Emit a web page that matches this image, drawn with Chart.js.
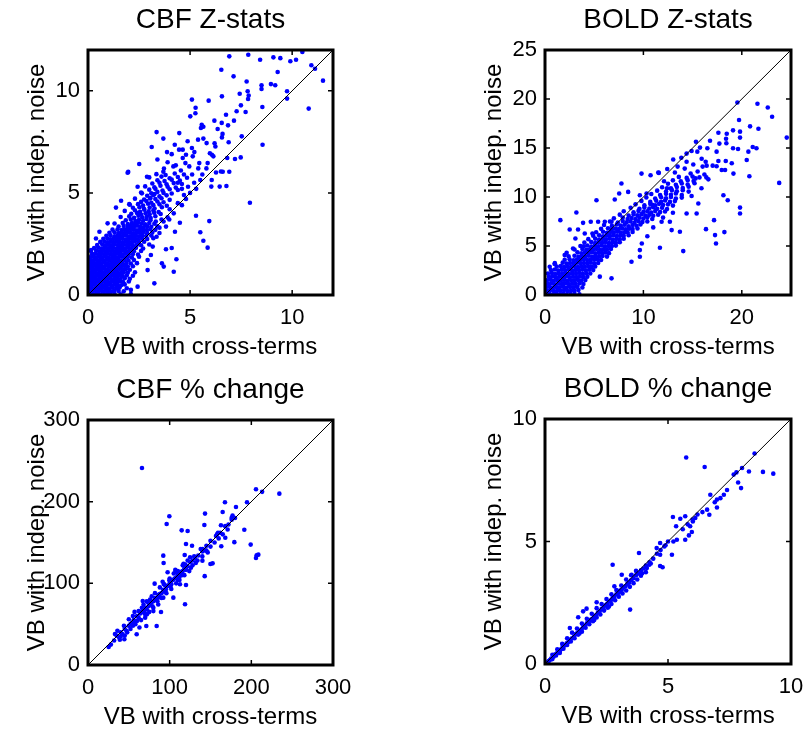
<!DOCTYPE html>
<html>
<head>
<meta charset="utf-8">
<script src="https://cdn.jsdelivr.net/npm/chart.js@4.4.1/dist/chart.umd.min.js"></script>
<style>
  body { margin: 0; background: #fff; width: 805px; height: 734px; position: relative; overflow: hidden; }
  .panel { position: absolute; }
</style>
</head>
<body>
<div class="panel" style="left:0;top:0;width:360px;height:364px"><canvas id="cbfZ"></canvas></div>
<div class="panel" style="left:457px;top:0;width:348px;height:364px"><canvas id="boldZ"></canvas></div>
<div class="panel" style="left:0;top:370px;width:360px;height:364px"><canvas id="cbfPct"></canvas></div>
<div class="panel" style="left:457px;top:369px;width:348px;height:364px"><canvas id="boldPct"></canvas></div>
<script>
const xAxisLabel = 'VB with cross-terms';
const yAxisLabel = 'VB with indep. noise';

const cbfZMax = 12;
const cbfZTicks = [0, 5, 10];
const boldZMax = 25;
const boldZXTicks = [0, 10, 20];
const boldZYTicks = [0, 5, 10, 15, 20, 25];
const cbfPctMax = 300;
const cbfPctTicks = [0, 100, 200, 300];
const boldPctMax = 10;
const boldPctTicks = [0, 5, 10];

// CBF Z-stats: [cross-terms, indep. noise]
const cbfZPoints = [
  [0.05,0.04],[0.2,0.07],[0.35,0.03],[0.5,0.06],[0.62,0.02],[0.8,0.05],[0.95,0.08],[1.1,0.03],[1.3,0.06],[1.6,0.04],[2.1,0.05],
  [0.1,0.2],[0.25,0.22],[0.4,0.18],[0.55,0.21],[0.7,0.19],[0.85,0.23],[1.0,0.2],[1.15,0.17],[1.3,0.22],[1.5,0.2],[1.75,0.18],
  [0.05,0.35],[0.18,0.37],[0.32,0.33],[0.48,0.36],[0.6,0.34],[0.75,0.38],[0.9,0.35],[1.05,0.32],[1.2,0.36],[1.38,0.35],[1.55,0.37],[1.9,0.33],
  [0.1,0.5],[0.25,0.52],[0.4,0.48],[0.55,0.51],[0.7,0.49],[0.85,0.53],[1.0,0.5],[1.15,0.47],[1.3,0.52],[1.45,0.5],[1.62,0.48],[1.8,0.52],
  [0.05,0.65],[0.2,0.67],[0.35,0.63],[0.5,0.66],[0.65,0.64],[0.8,0.68],[0.95,0.65],[1.1,0.62],[1.25,0.66],[1.4,0.65],[1.55,0.67],[1.72,0.63],[2.0,0.66],
  [0.1,0.8],[0.25,0.82],[0.4,0.78],[0.55,0.81],[0.7,0.79],[0.85,0.83],[1.0,0.8],[1.15,0.77],[1.3,0.82],[1.45,0.8],[1.6,0.78],[1.8,0.82],[2.05,0.79],
  [0.05,0.95],[0.2,0.97],[0.35,0.93],[0.5,0.96],[0.65,0.94],[0.8,0.98],[0.95,0.95],[1.1,0.92],[1.25,0.96],[1.4,0.95],[1.55,0.97],[1.7,0.93],[1.9,0.96],[2.2,0.94],
  [0.1,1.1],[0.25,1.12],[0.4,1.08],[0.55,1.11],[0.7,1.09],[0.85,1.13],[1.0,1.1],[1.15,1.07],[1.3,1.12],[1.45,1.1],[1.6,1.08],[1.75,1.12],[1.95,1.09],[2.3,1.11],
  [0.05,1.25],[0.2,1.27],[0.35,1.23],[0.5,1.26],[0.65,1.24],[0.8,1.28],[0.95,1.25],[1.1,1.22],[1.25,1.26],[1.4,1.25],[1.55,1.27],[1.7,1.23],[1.85,1.26],[2.05,1.24],
  [0.12,1.4],[0.28,1.42],[0.42,1.38],[0.58,1.41],[0.72,1.39],[0.88,1.43],[1.02,1.4],[1.18,1.37],[1.32,1.42],[1.48,1.4],[1.62,1.38],[1.78,1.42],[1.95,1.39],[2.2,1.41],
  [0.05,1.55],[0.2,1.57],[0.35,1.53],[0.5,1.56],[0.65,1.54],[0.8,1.58],[0.95,1.55],[1.1,1.52],[1.25,1.56],[1.4,1.55],[1.55,1.57],[1.7,1.53],[1.88,1.56],[2.1,1.54],[2.4,1.56],
  [0.15,1.7],[0.3,1.72],[0.45,1.68],[0.6,1.71],[0.75,1.69],[0.9,1.73],[1.05,1.7],[1.2,1.67],[1.35,1.72],[1.5,1.7],[1.65,1.68],[1.8,1.72],[1.98,1.69],[2.25,1.71],
  [0.1,1.85],[0.28,1.87],[0.42,1.83],[0.58,1.86],[0.72,1.84],[0.88,1.88],[1.02,1.85],[1.18,1.82],[1.32,1.86],[1.48,1.85],[1.62,1.87],[1.78,1.83],[1.95,1.86],[2.15,1.84],[2.5,1.87],
  [0.2,2.0],[0.35,2.02],[0.5,1.98],[0.65,2.01],[0.8,1.99],[0.95,2.03],[1.1,2.0],[1.25,1.97],[1.4,2.02],[1.55,2.0],[1.7,1.98],[1.85,2.02],[2.0,1.99],[2.2,2.01],[2.45,1.98],
  [0.15,2.15],[0.4,2.17],[0.55,2.13],[0.7,2.16],[0.85,2.14],[1.0,2.18],[1.15,2.15],[1.3,2.12],[1.45,2.16],[1.6,2.15],[1.75,2.17],[1.9,2.13],[2.05,2.16],[2.25,2.14],[2.6,2.16],
  [0.3,2.3],[0.5,2.32],[0.65,2.28],[0.8,2.31],[0.95,2.29],[1.1,2.33],[1.25,2.3],[1.4,2.27],[1.55,2.32],[1.7,2.3],[1.85,2.28],[2.0,2.32],[2.15,2.29],[2.35,2.31],[2.7,2.28],
  [0.45,2.45],[0.7,2.47],[0.85,2.43],[1.0,2.46],[1.15,2.44],[1.3,2.48],[1.45,2.45],[1.6,2.42],[1.75,2.46],[1.9,2.45],[2.05,2.47],[2.2,2.43],[2.4,2.46],[2.6,2.44],[3.0,2.47],
  [0.6,2.6],[0.8,2.62],[0.95,2.58],[1.1,2.61],[1.25,2.59],[1.4,2.63],[1.55,2.6],[1.7,2.57],[1.85,2.62],[2.0,2.6],[2.15,2.58],[2.3,2.62],[2.5,2.59],[2.75,2.61],
  [0.75,2.75],[0.95,2.77],[1.1,2.73],[1.25,2.76],[1.4,2.74],[1.55,2.78],[1.7,2.75],[1.85,2.72],[2.0,2.76],[2.15,2.75],[2.3,2.77],[2.45,2.73],[2.65,2.76],[2.9,2.74],[3.2,2.78],
  [0.9,2.9],[1.1,2.92],[1.3,2.88],[1.45,2.91],[1.6,2.89],[1.75,2.93],[1.9,2.9],[2.05,2.87],[2.2,2.92],[2.35,2.9],[2.5,2.88],[2.65,2.92],[2.85,2.89],[3.1,2.91],
  [1.05,3.05],[1.3,3.07],[1.5,3.03],[1.65,3.06],[1.8,3.04],[1.95,3.08],[2.1,3.05],[2.25,3.02],[2.4,3.06],[2.55,3.05],[2.7,3.07],[2.9,3.03],[3.15,3.06],[3.5,3.04],
  [1.2,3.2],[1.45,3.22],[1.65,3.18],[1.8,3.21],[1.95,3.19],[2.1,3.23],[2.25,3.2],[2.4,3.17],[2.55,3.22],[2.7,3.2],[2.88,3.18],[3.05,3.22],[3.3,3.19],
  [1.5,3.35],[1.75,3.38],[1.95,3.32],[2.1,3.36],[2.25,3.34],[2.4,3.39],[2.55,3.35],[2.72,3.31],[2.9,3.37],[3.1,3.34],[3.4,3.36],
  [1.3,3.5],[1.7,3.53],[1.95,3.47],[2.15,3.52],[2.3,3.48],[2.45,3.55],[2.62,3.5],[2.8,3.46],[3.0,3.53],[3.25,3.49],
  [1.85,3.66],[2.1,3.7],[2.32,3.62],[2.5,3.68],[2.7,3.64],[2.86,3.72],[3.06,3.66],[3.32,3.6],[3.6,3.7],
  [1.6,3.82],[2.02,3.85],[2.26,3.78],[2.47,3.88],[2.66,3.81],[2.88,3.84],[3.07,3.77],[3.3,3.86],
  [2.12,3.98],[2.4,4.02],[2.6,3.94],[2.82,4.0],[3.02,3.95],[3.24,4.03],[3.56,3.97],
  [1.8,4.12],[2.3,4.15],[2.55,4.08],[2.76,4.18],[2.97,4.1],[3.2,4.14],[3.46,4.06],
  [2.2,4.27],[2.52,4.3],[2.74,4.22],[3.02,4.28],[3.26,4.24],[3.62,4.3],
  [2.05,4.42],[2.45,4.45],[2.7,4.38],[2.94,4.47],[3.2,4.4],[3.5,4.44],[3.86,4.37],
  [2.6,4.56],[2.86,4.6],[3.1,4.52],[3.4,4.58],[3.7,4.54],
  [2.3,4.72],[2.75,4.68],[3.06,4.75],[3.3,4.7],[3.6,4.74],[4.0,4.66],
  [2.9,4.86],[3.2,4.9],[3.5,4.83],[3.85,4.88],
  [2.6,5.02],[3.1,4.98],[3.4,5.05],[3.7,5.0],[4.1,4.97],
  [3.0,5.16],[3.3,5.2],[3.65,5.12],[4.0,5.18],[4.4,5.14],
  [2.8,5.32],[3.25,5.28],[3.55,5.35],[3.9,5.3],[4.3,5.26],
  [3.15,5.46],[3.5,5.5],[3.85,5.42],[4.2,5.48],[4.6,5.44],
  [3.4,5.62],[3.75,5.58],[4.1,5.65],[4.5,5.6],
  [3.0,5.76],[3.6,5.8],[4.0,5.72],[4.4,5.78],[4.85,5.74],
  [3.35,5.92],[3.8,5.88],[4.25,5.95],[4.7,5.9],
  [3.5,3.3],[3.7,3.6],[3.9,3.8],[4.0,4.2],[4.2,4.0],[4.4,4.5],[4.6,4.4],[4.8,4.7],[5.0,5.0],[4.7,4.9],[4.9,5.3],[5.2,5.5],[4.6,5.2],[5.3,5.2],
  [0.96,3.51],[0.56,3.1],[0.39,2.77],[0.15,2.2],[1.37,4.28],[1.62,4.62],[2.02,4.45],[2.43,5.3],[2.64,4.98],[3.04,4.73],[3.25,4.94],[1.94,5.99],[2.89,5.79],
  [3.69,6.04],[6.27,6.0],[6.6,6.04],[6.92,6.04],[6.06,5.63],[6.04,5.31],[6.45,5.31],[6.78,5.34],[5.5,5.63],[7.93,4.52],
  [5.29,3.88],[5.94,3.62],[5.5,3.07],[5.65,2.66],[5.86,2.32],[4.33,1.75],[4.2,1.14],[3.62,1.55],[3.71,1.39],[3.25,0.57],
  [2.1,0.25],[2.43,0.41],[2.92,1.22],[3.82,2.24],[4.1,2.3],[4.26,3.1],[3.82,3.35],[3.98,3.7],[4.5,3.54],[3.36,2.85],
  [3.17,2.37],[2.92,1.71],[3.08,1.96],
  [6.92,11.69],[7.85,11.77],[8.43,11.52],[9.08,11.64],[9.42,11.6],[9.91,11.45],[10.19,11.52],[10.5,11.9],[10.94,11.25],[11.12,11.08],
  [11.51,10.5],[6.53,11.03],[7.13,10.71],[9.29,10.92],[7.77,10.46],[8.5,10.27],[8.5,10.09],[8.96,10.33],[9.17,10.27],[9.75,9.98],
  [7.82,9.98],[7.43,9.86],[7.87,9.77],[7.84,9.6],[6.56,9.73],[5.09,9.57],[5.91,9.52],[9.75,9.62],[8.54,9.21],[10.81,9.13],
  [5.27,9.17],[5.26,8.9],[5.01,8.75],[6.76,8.83],[7.28,9.0],[7.72,8.96],[7.49,9.29],[7.15,8.54],[6.19,8.54],[6.55,8.43],
  [6.86,8.31],[5.57,8.34],[5.65,8.24],[5.53,8.18],[6.35,8.13],[6.59,7.89],[6.56,7.72],[3.36,7.98],[4.47,7.93],[3.69,7.66],
  [4.88,7.53],[5.39,7.61],[5.65,7.66],[5.81,7.44],[6.2,7.43],[6.24,7.27],[7.53,7.77],[6.89,7.48],[8.55,7.36],[3.12,7.25],
  [4.25,7.36],[4.46,7.12],[4.64,7.12],[3.87,7.0],[5.09,7.2],[5.21,7.0],[5.97,6.94],[6.07,6.87],[6.14,6.79],[4.8,6.87],
  [4.64,6.71],[5.13,6.79],[3.4,6.64],[2.51,6.42],[4.18,6.3],[4.77,6.46],[4.96,6.3],[5.45,6.46],[5.86,6.46],[6.82,6.71],
  [7.2,6.66],[7.48,6.74],[3.72,6.19],[1.97,6.03],[4.55,6.1],[6.51,6.05],[4.3,6.35],[3.9,6.5],[4.1,6.9],[5.4,6.2],
  [5.1,5.9],[5.8,6.2],[4.4,5.5],[5.6,5.9]
];

// BOLD Z-stats
const boldZPoints = [
  [0.1,0.1],[0.45,0.15],[0.8,0.05],[1.15,0.12],[1.5,0.08],[1.85,0.14],[2.2,0.06],[2.6,0.1],[3.0,0.13],[3.5,0.07],
  [0.2,0.45],[0.55,0.5],[0.9,0.4],[1.25,0.47],[1.6,0.43],[1.95,0.5],[2.3,0.41],[2.65,0.46],[3.0,0.44],[3.4,0.5],
  [0.1,0.8],[0.45,0.85],[0.8,0.75],[1.15,0.82],[1.5,0.78],[1.85,0.85],[2.2,0.76],[2.55,0.81],[2.9,0.79],[3.3,0.84],[3.8,0.77],
  [0.3,1.15],[0.65,1.2],[1.0,1.1],[1.35,1.17],[1.7,1.13],[2.05,1.2],[2.4,1.11],[2.75,1.16],[3.1,1.14],[3.5,1.19],[3.9,1.12],
  [0.2,1.5],[0.55,1.55],[0.9,1.45],[1.25,1.52],[1.6,1.48],[1.95,1.55],[2.3,1.46],[2.65,1.51],[3.0,1.49],[3.35,1.54],[3.7,1.47],[4.1,1.52],
  [0.4,1.85],[0.75,1.9],[1.1,1.8],[1.45,1.87],[1.8,1.83],[2.15,1.9],[2.5,1.81],[2.85,1.86],[3.2,1.84],[3.55,1.89],[3.9,1.82],[4.3,1.87],
  [0.3,2.2],[0.7,2.25],[1.05,2.15],[1.4,2.22],[1.75,2.18],[2.1,2.25],[2.45,2.16],[2.8,2.21],[3.15,2.19],[3.5,2.24],[3.85,2.17],[4.2,2.22],[4.6,2.19],
  [0.6,2.55],[1.0,2.6],[1.35,2.5],[1.7,2.57],[2.05,2.53],[2.4,2.6],[2.75,2.51],[3.1,2.56],[3.45,2.54],[3.8,2.59],[4.15,2.52],[4.5,2.57],[4.9,2.54],
  [1.2,2.9],[1.6,2.95],[1.95,2.85],[2.3,2.92],[2.65,2.88],[3.0,2.95],[3.35,2.86],[3.7,2.91],[4.05,2.89],[4.4,2.94],[4.75,2.87],[5.1,2.92],
  [1.0,3.25],[1.8,3.3],[2.2,3.2],[2.55,3.27],[2.9,3.23],[3.25,3.3],[3.6,3.21],[3.95,3.26],[4.3,3.24],[4.65,3.29],[5.0,3.22],[5.4,3.27],
  [2.0,3.6],[2.5,3.65],[2.9,3.55],[3.25,3.62],[3.6,3.58],[3.95,3.65],[4.3,3.56],[4.65,3.61],[5.0,3.59],[5.35,3.64],[5.7,3.57],
  [2.4,3.95],[3.0,4.0],[3.4,3.9],[3.75,3.97],[4.1,3.93],[4.45,4.0],[4.8,3.91],[5.15,3.96],[5.5,3.94],[5.85,3.99],[6.3,3.92],
  [2.2,4.3],[3.3,4.35],[3.7,4.25],[4.05,4.32],[4.4,4.28],[4.75,4.35],[5.1,4.26],[5.45,4.31],[5.8,4.29],[6.15,4.34],[6.5,4.27],
  [3.0,4.65],[3.8,4.7],[4.2,4.6],[4.55,4.67],[4.9,4.63],[5.25,4.7],[5.6,4.61],[5.95,4.66],[6.3,4.64],[6.7,4.69],
  [3.6,5.0],[4.3,5.05],[4.7,4.95],[5.05,5.02],[5.4,4.98],[5.75,5.05],[6.1,4.96],[6.45,5.01],[6.8,4.99],[7.2,5.04],
  [4.0,5.35],[4.7,5.4],[5.1,5.3],[5.45,5.37],[5.8,5.33],[6.15,5.4],[6.5,5.31],[6.85,5.36],[7.2,5.34],[7.6,5.39],
  [4.4,5.7],[5.1,5.75],[5.5,5.65],[5.85,5.72],[6.2,5.68],[6.55,5.75],[6.9,5.66],[7.25,5.71],[7.6,5.69],[8.0,5.74],
  [4.9,6.05],[5.5,6.1],[5.9,6.0],[6.25,6.07],[6.6,6.03],[6.95,6.1],[7.3,6.01],[7.65,6.06],[8.0,6.04],[8.5,6.09],
  [5.2,6.4],[5.9,6.45],[6.3,6.35],[6.65,6.42],[7.0,6.38],[7.35,6.45],[7.7,6.36],[8.05,6.41],[8.4,6.39],[8.9,6.44],
  [5.7,6.75],[6.4,6.8],[6.8,6.7],[7.15,6.77],[7.5,6.73],[7.85,6.8],[8.2,6.71],[8.55,6.76],[8.9,6.74],[9.4,6.79],
  [6.0,7.15],[6.8,7.05],[7.3,7.2],[7.7,7.08],[8.1,7.18],[8.5,7.02],[8.9,7.14],[9.3,7.06],[9.7,7.2],
  [6.6,7.5],[7.4,7.4],[7.9,7.55],[8.3,7.42],[8.7,7.5],[9.1,7.38],[9.5,7.52],[9.9,7.44],[10.4,7.5],
  [7.0,7.82],[7.9,7.9],[8.4,7.76],[8.8,7.85],[9.2,7.74],[9.6,7.88],[10.0,7.8],[10.4,7.9],[10.9,7.76],
  [7.6,8.2],[8.5,8.1],[9.0,8.22],[9.4,8.12],[9.8,8.25],[10.2,8.1],[10.6,8.18],[11.0,8.08],[11.5,8.2],
  [8.0,8.55],[9.0,8.45],[9.5,8.58],[10.0,8.48],[10.4,8.55],[10.8,8.42],[11.2,8.56],[11.7,8.46],[12.2,8.52],
  [8.7,8.9],[9.6,8.8],[10.1,8.92],[10.6,8.82],[11.0,8.95],[11.4,8.8],[11.9,8.9],[12.4,8.78],
  [9.2,9.25],[10.1,9.15],[10.7,9.28],[11.2,9.16],[11.6,9.3],[12.0,9.18],[12.5,9.25],[13.0,9.12],
  [9.8,9.6],[10.7,9.5],[11.3,9.62],[11.8,9.52],[12.2,9.65],[12.7,9.5],[13.2,9.58],
  [10.3,9.95],[11.2,9.85],[11.8,9.98],[12.3,9.88],[12.8,10.0],[13.3,9.85],[13.9,9.94],
  [10.8,10.3],[11.7,10.2],[12.3,10.32],[12.8,10.22],[13.3,10.35],[13.9,10.2],
  [11.4,10.65],[12.3,10.55],[12.9,10.68],[13.4,10.58],[14.0,10.7],[14.6,10.55],
  [11.9,11.0],[12.8,10.9],[13.4,11.02],[14.0,10.92],[14.6,11.05],
  [12.5,11.35],[13.3,11.25],[13.9,11.38],[14.5,11.28],[15.2,11.4],
  [13.0,11.7],[13.8,11.6],[14.5,11.72],[15.1,11.62],
  [13.6,12.05],[14.4,11.95],[15.0,12.08],[15.7,12.0],
  [3.19,8.42],[1.56,7.64],[5.23,9.67],[7.09,9.74],[7.77,11.37],[7.54,10.35],[8.45,10.52],[9.64,10.18],[10.32,10.35],
  [2.51,6.68],[3.36,6.68],[3.87,7.36],[4.65,7.47],[5.4,7.47],[6.08,7.47],[6.76,7.47],[4.04,6.28],[4.82,6.28],[3.09,5.77],
  [2.85,4.75],[2.0,4.07],[0.98,3.16],[0.48,2.89],[3.94,4.98],[4.72,4.41],[5.57,1.87],[3.19,0.85],[1.83,1.19],
  [9.81,12.39],[10.73,12.22],[11.57,12.46],[23.8,11.44],[20.77,12.12],[19.15,12.39],[18.13,10.18],[18.57,9.67],[19.82,8.92],
  [19.82,8.32],[17.18,7.64],[16.36,6.72],[17.28,6.11],[17.38,5.26],[18.23,6.42],[14.05,4.48],[11.68,4.82],[8.79,3.39],[6.76,1.7],
  [15.58,9.33],[15.41,8.32],[14.39,8.32],[13.71,6.45],[12.87,6.62],[12.69,7.47],[11.85,7.47],[9.84,5.26],[9.64,4.58],[9.64,3.9],
  [19.55,19.65],[21.59,19.52],[22.64,19.14],[23.08,18.19],[24.57,16.06],[19.72,17.86],[20.84,17.21],[21.69,16.97],[19.11,16.8],
  [19.82,16.67],[19.82,16.06],[18.47,16.46],[17.62,16.56],[18.4,15.95],[16.77,15.74],[17.72,15.45],[18.43,15.48],[15.34,15.64],
  [15.75,15.04],[16.5,14.97],[14.9,14.7],[15.48,14.63],[19.11,14.97],[19.62,14.9],[20.67,14.63],[21.11,15.1],[21.49,14.97],
  [14.39,14.43],[13.85,14.0],[13.03,13.82],[13.48,13.1],[14.39,13.6],[15.07,13.32],[15.92,13.9],[16.33,13.6],[17.44,14.63],
  [17.62,13.68],[18.37,13.68],[18.98,13.44],[20.5,13.78],[16.02,13.1],[16.43,13.2],[17.04,13.2],[17.44,13.14],[17.96,12.76],
  [18.3,12.76],[15.51,12.6],[12.42,12.86],[11.51,12.5],[14.8,12.4],[16.2,12.3],[13.2,12.5],[14.2,12.9],[15.3,11.9],[16.6,11.8],
  [12.1,11.6],[14.9,10.1],[15.9,10.9],[16.4,12.0],[13.0,8.4],[12.0,7.9],[11.0,6.9],[10.4,6.0],[10.9,9.2],[12.4,10.9]
];

// CBF % change
const cbfPctPoints = [
  [28,25],[32,30],[35,36],[38,34],[40,40],[42,38],[45,44],[47,42],[50,48],[52,50],[54,52],[56,55],[58,53],[60,60],[62,58],
  [64,63],[66,65],[68,66],[70,70],[72,68],[74,72],[76,75],[78,77],[80,78],[82,82],[84,80],[86,86],[88,87],[90,88],[92,92],
  [94,90],[96,96],[98,97],[100,100],[102,99],[104,104],[106,106],[108,107],[110,110],[112,108],[114,114],[116,115],[118,118],
  [120,119],[122,121],[125,126],[128,128],[131,131],[135,134],[140,139],[145,140],[150,152],[158,160],[162,162],[168,170],
  [172,172],[176,178],[180,180],
  [36,42],[40,35],[44,48],[48,40],[50,56],[55,60],[58,50],[62,66],[65,55],[68,74],[70,62],[72,78],[75,65],[78,84],[80,70],
  [82,88],[85,78],[88,95],[90,82],[94,98],[96,88],[100,106],[102,93],[105,112],[108,100],[110,115],[112,104],[116,122],
  [118,110],[122,128],[124,115],[130,133],[132,125],[138,142],[140,133],[145,146],[155,150],[160,155],[165,160],
  [66.1,241.2],[234.3,209.8],[205.7,215.2],[213.2,212.0],[194.7,199.2],[181.2,193.5],[167.7,199.2],[164.9,187.4],[175.9,180.1],
  [99.6,182.1],[96.3,172.7],[143.3,185.4],[142.5,171.5],[114.7,164.9],[122.0,164.1],[162.8,171.1],[191.4,165.7],[159.2,162.0],
  [156.7,157.9],[168.1,155.9],[179.2,150.4],[163.2,145.4],[199.2,147.4],[206.5,134.3],[208.6,135.1],[205.7,131.0],[120.0,148.2],
  [127.4,146.1],[143.3,140.4],[146.6,137.9],[140.4,142.0],[92.2,133.9],[92.6,124.9],[152.6,124.5],[149.9,123.7],[140.1,127.8],
  [118.4,134.7],[119.2,122.9],[142.9,108.8],[97.5,113.6],[106.9,116.5],[111.8,112.4],[120.0,116.5],[120.0,97.9],[112.6,98.8],
  [81.6,99.6],[91.4,102.0],[99.6,103.7],[95.5,92.7],[104.5,82.5],[92.2,82.5],[118.8,74.3],[89.4,64.9],[84.1,47.8],[71.4,47.8],
  [59.6,37.6],[44.5,31.5],[25.3,22.0],[72.2,62.0],[67.0,78.3],[75.1,74.3],[80,66],[57,65],[63,46],[45,36],[39,31],[33,38],
  [55,48],[70,58],[86,74],[76,80],[60,54],[52,44],[66,70],[110,104],[115,110],[126,119],[134,128],[125,132],[107,114],
  [93,99],[87,83],[79,72],[73,77],[69,64],[101,96],[117,124],[128,122],[150,145],[171,166],[177,183]
];

// BOLD % change
const boldPctPoints = [
  [0.15,0.12],[0.25,0.22],[0.35,0.3],[0.42,0.4],[0.5,0.46],[0.58,0.55],[0.65,0.6],[0.72,0.7],[0.8,0.76],[0.88,0.85],
  [0.95,0.9],[1.02,1.0],[1.1,1.05],[1.18,1.12],[1.25,1.22],[1.32,1.27],[1.4,1.36],[1.48,1.42],[1.55,1.5],[1.62,1.56],
  [1.7,1.66],[1.78,1.72],[1.85,1.8],[1.92,1.85],[2.0,1.95],[2.08,2.0],[2.15,2.1],[2.22,2.15],[2.3,2.25],[2.38,2.3],
  [2.45,2.4],[2.52,2.45],[2.6,2.55],[2.68,2.6],[2.75,2.7],[2.82,2.74],[2.9,2.85],[2.98,2.9],[3.05,3.0],[3.12,3.03],
  [3.2,3.12],[3.28,3.18],[3.35,3.28],[3.42,3.32],[3.5,3.42],[3.6,3.5],[3.7,3.62],[3.8,3.7],[3.9,3.82],[4.0,3.9],
  [4.1,4.02],[4.25,4.15],[4.4,4.3],[4.55,4.5],[4.7,4.65],[4.85,4.8],[5.0,5.0],
  [0.3,0.2],[0.45,0.35],[0.6,0.5],[0.75,0.62],[0.9,0.78],[1.05,0.92],[1.2,1.05],[1.35,1.2],[1.5,1.32],[1.65,1.48],
  [1.8,1.62],[1.95,1.75],[2.1,1.9],[2.25,2.02],[2.4,2.18],[2.55,2.3],[2.7,2.45],[2.85,2.6],[3.0,2.75],[3.15,2.88],
  [3.3,3.0],[3.45,3.15],[3.6,3.3],[3.75,3.45],[3.9,3.6],
  [0.3,0.38],[0.5,0.6],[0.7,0.82],[0.9,1.05],[1.1,1.28],[1.3,1.45],[1.5,1.65],[1.7,1.85],[1.9,2.05],[2.1,2.28],
  [2.3,2.45],[2.5,2.65],[2.7,2.85],[2.9,3.02],[3.1,3.2],[3.3,3.45],[3.5,3.62],[3.7,3.8],
  [5.74,8.43],[6.49,8.04],[8.52,8.59],[8.86,7.84],[9.28,7.77],[8.29,7.86],[8.01,8.0],[7.78,7.82],[7.67,7.73],[7.85,7.41],
  [7.97,7.18],[7.27,6.91],[7.13,6.77],[6.99,6.71],[6.72,6.91],[6.99,6.39],[6.68,6.09],[6.59,6.3],[6.11,5.96],[6.01,5.82],
  [5.7,6.03],[5.2,6.0],[5.5,5.93],[5.33,5.62],[5.9,5.62],[5.97,5.39],[5.85,5.25],[5.7,5.07],[5.36,5.07],[5.22,5.0],
  [4.68,4.94],[4.54,4.73],[5.16,4.46],[3.82,4.53],[2.75,4.05],[4.68,4.46],[4.68,4.0],[4.78,3.95],[4.24,4.05],[4.14,3.92],
  [3.46,2.22],[3.12,3.64],[3.52,3.64],[2.82,3.17],[3.05,2.96],[2.1,2.52],[1.69,2.26],[1.55,2.15],[1.35,1.91],[1.01,1.47],
  [6.2,6.1],[6.4,6.2],[5.6,5.5],[5.8,5.7],[6.9,6.6],[7.4,7.1],[6.0,5.9],[4.9,4.85],[4.3,4.1],[4.1,3.75],[3.95,3.7],
  [2.6,2.35],[2.0,1.8],[1.4,1.25],[0.6,0.45],[0.2,0.16],[0.08,0.06]
];

const fontFamily = '"Liberation Sans", Arial, Helvetica, sans-serif';

const boxAndTicks = {
  id: 'boxAndTicks',
  afterDatasetsDraw(chart) {
    const { ctx, chartArea: a, scales: { x, y } } = chart;
    ctx.save();
    ctx.strokeStyle = '#000';
    ctx.lineWidth = 1.5;
    ctx.beginPath();
    x.ticks.forEach(t => {
      const px = x.getPixelForValue(t.value);
      ctx.moveTo(px, a.bottom); ctx.lineTo(px, a.bottom - 5);
      ctx.moveTo(px, a.top); ctx.lineTo(px, a.top + 5);
    });
    y.ticks.forEach(t => {
      const py = y.getPixelForValue(t.value);
      ctx.moveTo(a.left, py); ctx.lineTo(a.left + 5, py);
      ctx.moveTo(a.right, py); ctx.lineTo(a.right - 5, py);
    });
    ctx.stroke();
    ctx.lineWidth = 3;
    ctx.strokeRect(a.left, a.top, a.right - a.left, a.bottom - a.top);
    ctx.restore();
  }
};

function makePanel(id, title, points, maxVal, xTicks, yTicks, rightPad) {
  new Chart(document.getElementById(id), {
    type: 'scatter',
    data: {
      datasets: [
        {
          type: 'line',
          data: [{ x: 0, y: 0 }, { x: maxVal, y: maxVal }],
          borderColor: '#000',
          borderWidth: 1,
          pointRadius: 0,
          fill: false
        },
        {
          data: points.map(([x, y]) => ({ x, y })),
          backgroundColor: '#0000ff',
          borderWidth: 0,
          pointRadius: 2.3,
          pointStyle: 'circle'
        }
      ]
    },
    options: {
      responsive: true,
      maintainAspectRatio: false,
      animation: false,
      layout: { padding: { top: 0, left: 0, bottom: 0, right: rightPad } },
      plugins: {
        legend: { display: false },
        tooltip: { enabled: false },
        title: {
          display: true,
          fullSize: false,   // centre over the plot box, not the canvas
          text: title,
          color: '#000',
          font: { family: fontFamily, size: 28, weight: 'normal', lineHeight: 1 },
          padding: { top: 6, bottom: 16 }
        }
      },
      scales: {
        x: {
          type: 'linear',
          min: 0,
          max: maxVal,
          afterBuildTicks: s => { s.ticks = xTicks.map(v => ({ value: v })); },
          afterFit: s => { s.height = 69; s.paddingLeft = 0; s.paddingRight = 0; },
          grid: { display: false, drawTicks: false },
          border: { display: false },
          ticks: { color: '#000', font: { family: fontFamily, size: 22 }, padding: 10, maxRotation: 0, autoSkip: false },
          title: {
            display: true,
            text: xAxisLabel,
            color: '#000',
            font: { family: fontFamily, size: 24, lineHeight: 1 },
            padding: { top: 0, bottom: 5 }
          }
        },
        y: {
          type: 'linear',
          min: 0,
          max: maxVal,
          afterBuildTicks: s => { s.ticks = yTicks.map(v => ({ value: v })); },
          afterFit: s => { s.width = 88; s.paddingTop = 0; s.paddingBottom = 0; },
          grid: { display: false, drawTicks: false },
          border: { display: false },
          ticks: { color: '#000', font: { family: fontFamily, size: 22 }, padding: 8, autoSkip: false },
          title: {
            display: true,
            text: yAxisLabel,
            color: '#000',
            font: { family: fontFamily, size: 24, lineHeight: 1 },
            padding: { top: 25, bottom: 0 }
          }
        }
      }
    },
    plugins: [boxAndTicks]
  });
}

makePanel('cbfZ', 'CBF Z-stats', cbfZPoints, cbfZMax, cbfZTicks, cbfZTicks, 27);
makePanel('boldZ', 'BOLD Z-stats', boldZPoints, boldZMax, boldZXTicks, boldZYTicks, 14);
makePanel('cbfPct', 'CBF % change', cbfPctPoints, cbfPctMax, cbfPctTicks, cbfPctTicks, 27);
makePanel('boldPct', 'BOLD % change', boldPctPoints, boldPctMax, boldPctTicks, boldPctTicks, 14);
</script>
</body>
</html>
